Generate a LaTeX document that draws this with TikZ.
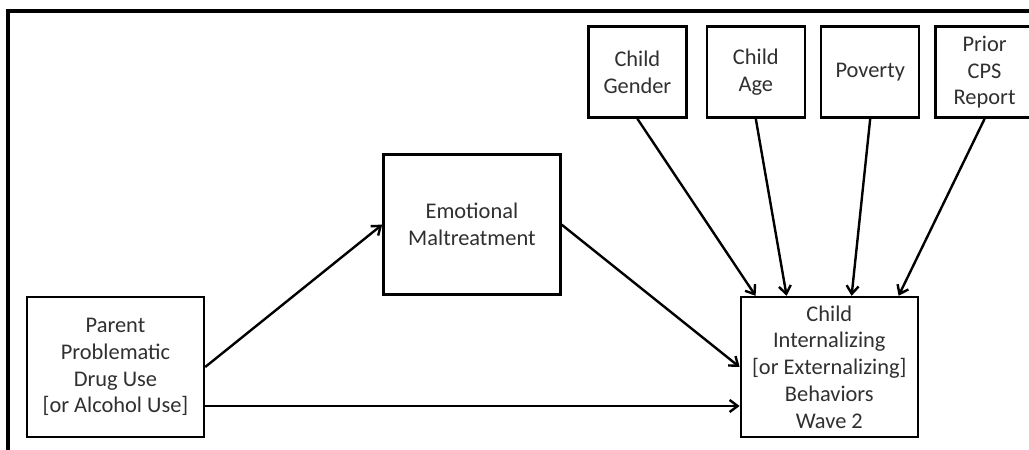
\documentclass[tikz,border=0pt]{standalone}
\usepackage{fontspec}
\setmainfont{Carlito}
\usepackage{tikz}
\usetikzlibrary{arrows.meta, positioning}
\definecolor{textogris}{HTML}{303030}
\tikzset{
  caja/.style={draw=black, line width=1.2pt, fill=white, align=center, inner sep=0pt, text=textogris, font=\fontsize{11.2pt}{13.4pt}\selectfont},
  grande/.style={caja, minimum width=88.5pt, minimum height=70pt},
  chica/.style={caja, minimum width=49pt, minimum height=45.5pt},
  flecha/.style={-{Straight Barb[length=4pt, width=6pt]}, line width=1.2pt, color=black},
}
\begin{document}
\begin{tikzpicture}
  \useasboundingbox (0,0) rectangle (514.5pt,-225pt);
  % marco
  \draw[line width=1.6pt] (4pt,-225pt) -- (4pt,-5.5pt) -- (514.5pt,-5.5pt);
  \node[grande] (par) at (57.75pt,-183.5pt) {Parent\\Problematic\\Drug Use\\{[or Alcohol Use]}};
  \node[grande, above right=0pt and 88.5pt of par] (emo) {Emotional\\Maltreatment};
  \node[grande, below right=0pt and 89pt of emo] (chi) {Child\\Internalizing\\{[or Externalizing]}\\Behaviors\\Wave 2};
  \node[chica, above left=88.5pt and 26pt of chi] (gen) {Child\\Gender};
  \node[chica, right=9pt of gen] (age) {Child\\Age};
  \node[chica, right=7pt of age] (pov) {Poverty};
  \node[chica, right=7pt of pov] (cps) {Prior\\CPS\\Report};
  \draw[flecha] (par.east) -- (emo.west);
  \draw[flecha] (emo.east) -- (chi.west);
  \draw[flecha] ([yshift=-19.5pt]par.east) -- ([yshift=-19.5pt]chi.west);
  \draw[flecha] (gen.south) -- ([xshift=8pt]chi.north west);
  \draw[flecha] (age.south) -- ([xshift=23.5pt]chi.north west);
  \draw[flecha] (pov.south) -- ([xshift=56pt]chi.north west);
  \draw[flecha] (cps.south) -- ([xshift=79.5pt]chi.north west);
\end{tikzpicture}
\end{document}
